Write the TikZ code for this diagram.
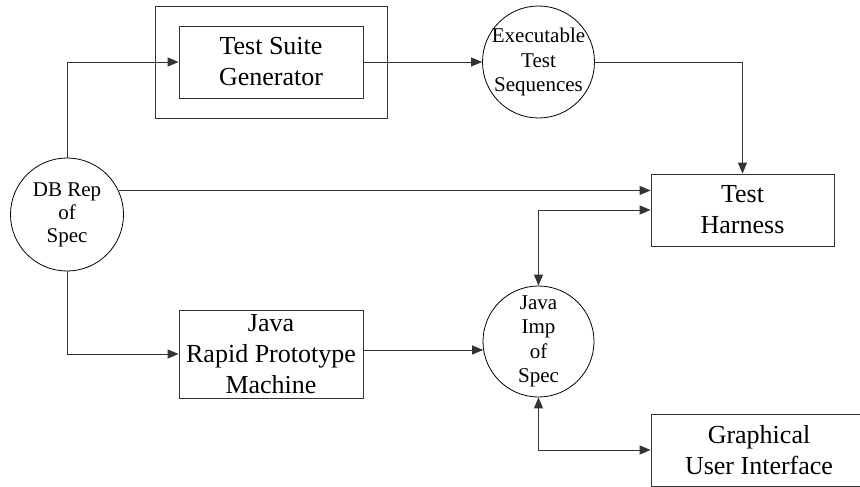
\documentclass[tikz,border=0pt]{standalone}
\usepackage{fontspec}
\setmainfont{LiberationSerif}[Extension=.ttf, UprightFont=*-Regular, BoldFont=*-Bold]
\usetikzlibrary{arrows.meta,calc}
\begin{document}
\begin{tikzpicture}[x=1pt,y=-1pt,
  ln/.style={draw=black!80, line width=0.9pt},
  boxnode/.style={ln, rectangle, inner sep=0pt, align=center, font=\fontsize{26}{31}\selectfont},
  bubble/.style={draw=black, line width=0.8pt, circle, inner sep=0pt, minimum size=112pt},
  bubbletext/.style={align=center, inner sep=0pt, font=\fontsize{21}{24.5}\selectfont},
  tip/.tip={Triangle[length=11pt,width=9pt]},
  arr/.style={ln, -tip},
  arrs/.style={ln, tip-tip},
]
\clip (0,0) rectangle (860,487);

% process boxes
\node[boxnode, minimum width=232pt, minimum height=112pt] (outer) at (271,62) {};
\node[boxnode, minimum width=184pt, minimum height=72pt] (tsg) at (271,62) {Test Suite\\Generator};
\node[boxnode, minimum width=183pt, minimum height=72pt] (th) at (742.5,210) {Test\\Harness};
\node[boxnode, minimum width=184pt, minimum height=88pt] (rpm) at (271,354) {Java\\Rapid Prototype\\Machine};
\node[boxnode, minimum width=216pt, minimum height=72pt] (gui) at (759,450) {Graphical\\User Interface};

% data stores
\node[bubble] (ets) at (538.5,62) {};
\node[bubbletext] (etsT) at (ets) {Executable\\Test\\Sequences};
\node[bubble, minimum size=113pt] (db) at (67,214.5) {};
\node[bubbletext, font=\fontsize{21}{23}\selectfont] (dbT) at (db) {DB Rep\\of\\Spec};
\node[bubble, minimum size=111pt] (ji) at (538.5,341.5) {};
\node[bubbletext] (jiT) at (ji) {Java\\Imp\\of\\Spec};

% flows
\draw[arr] (db.north) |- (tsg.west);
\draw[arr] (tsg.east) -- (ets.west);
\draw[arr] (ets.east) -| (th.north);
\draw[arr] (db.25.4) -- (db.25.4 -| th.west);
\draw[arrs] (ji.north) |- (th.west);
\draw[arr] (db.south) |- (rpm.west);
\coordinate (rpmout) at ([yshift=4pt]rpm.east);
\draw[arr] (rpmout) -- (rpmout -| ji.188.8);
\draw[arrs] (ji.south) |- (gui.west);
\end{tikzpicture}
\end{document}
